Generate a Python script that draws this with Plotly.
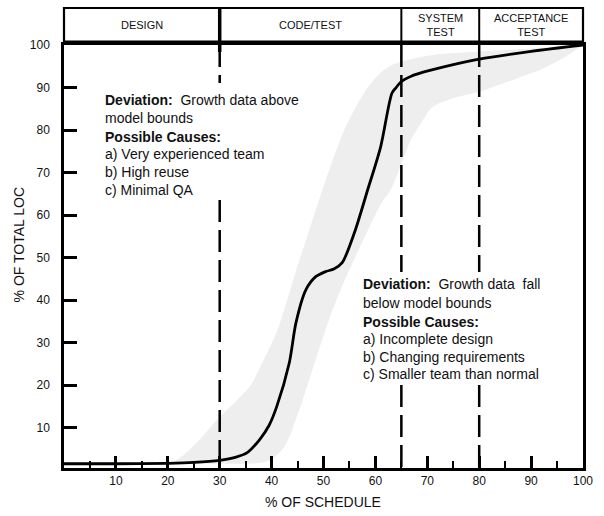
import plotly.graph_objects as go

# ---- data ----
curve_x = [0, 10, 20, 25, 30, 33, 35.3, 37.7, 39.5, 41, 43.4, 44.7, 46.6, 48.5, 50.4, 52, 53.6,
           56, 58.5, 61, 63.2, 64, 64.9, 67, 69.2, 75, 80, 90, 100]
curve_y = [1.5, 1.5, 1.6, 1.8, 2.3, 3, 4.1, 7.2, 10.5, 15, 25.2, 34.7, 42.4, 45.5, 46.7, 47.3, 48.8,
           56, 65.9, 76, 88.7, 90, 91.3, 92.7, 93.6, 95.4, 96.7, 98.5, 100]

upper_x = [20.5, 23, 26, 30, 33, 36, 38.5, 41, 43, 45, 47, 49, 51.5, 54, 56.5, 58.5, 61, 63,
           67, 72, 80, 88, 100]
upper_y = [1.5, 3.5, 7, 12.5, 16, 20, 26, 32.5, 40, 48, 55.5, 63, 72, 80, 86, 90, 93.5, 95.2,
           96.7, 97.8, 98.5, 99, 100]
lower_x = [100, 96, 92, 88, 84, 80, 75, 71, 68.5, 66.8, 65, 63, 61, 58, 54.2, 52, 50.4, 48.5,
           47.2, 46, 44.7, 43.5, 42.2, 40.5, 39, 37, 35]
lower_y = [100, 96.8, 94.3, 92.5, 90.7, 89, 87.5, 85.4, 81, 77.6, 72, 66, 62.5, 55, 45, 38.5, 33,
           26, 21, 16.5, 12, 8, 5, 3, 2, 1.6, 1.5]

phases = ["DESIGN", "CODE/TEST", "SYSTEM<br>TEST", "ACCEPTANCE<br>TEST"]
phase_bounds = [0, 30, 65, 80, 100]

x_ticks = [10, 20, 30, 40, 50, 60, 70, 80, 90, 100]
y_ticks = [10, 20, 30, 40, 50, 60, 70, 80, 90, 100]

upper_note = ["<b>Deviation:</b>\u00a0 Growth data above", "model bounds", "<b>Possible Causes:</b>",
              "a) Very experienced team", "b) High reuse", "c) Minimal QA"]
lower_note = ["<b>Deviation:</b>\u00a0 Growth data\u00a0 fall", "below model bounds", "<b>Possible Causes:</b>",
              "a) Incomplete design", "b) Changing requirements", "c) Smaller team than normal"]

# ---- geometry (reference pixel layout) ----
W, H = 604, 516
L, R = 63.5, 593.0
T, B = 45.0, 468.0
YMIN, YMAX = 0.5, 100
FONT = "Liberation Sans, Arial, sans-serif"


def px_to_xpaper(px):
    return (px - L) / (R - L)


def px_to_ypaper(py):
    return (B - py) / (B - T)


def py_to_val(py):
    return YMIN + (B - py) / (B - T) * (YMAX - YMIN)


fig = go.Figure()

fig.add_trace(go.Scatter(
    x=upper_x + lower_x, y=upper_y + lower_y, fill="toself", mode="lines",
    line=dict(width=0, shape="spline", smoothing=0.8), fillcolor="#eeeeee",
    hoverinfo="skip", showlegend=False))

fig.add_trace(go.Scatter(
    x=curve_x, y=curve_y, mode="lines",
    line=dict(color="black", width=2.8, shape="spline", smoothing=0.8),
    hoverinfo="skip", showlegend=False))

shapes = []
dash_segments = [
    (30, 100, py_to_val(83)), (30, py_to_val(200), YMIN),
    (65, 100, py_to_val(272)), (65, py_to_val(385), YMIN),
    (80, 100, py_to_val(272)), (80, py_to_val(385), YMIN),
]
for xv, y0, y1 in dash_segments:
    shapes.append(dict(type="line", xref="x", yref="y", x0=xv, x1=xv, y0=y0, y1=y1,
                       line=dict(color="black", width=2.5, dash="22px,8px")))

top_p = px_to_ypaper(8)
shapes.append(dict(type="rect", xref="paper", yref="paper", x0=0, x1=1,
                   y0=px_to_ypaper(41.5), y1=top_p, line=dict(color="black", width=2.2)))
for b in phase_bounds[1:-1]:
    xp = b / 100
    w = 3.5 if b == 30 else 2
    bottom = px_to_ypaper(52) if b == 30 else px_to_ypaper(45)
    shapes.append(dict(type="line", xref="paper", yref="paper", x0=xp, x1=xp,
                       y0=bottom, y1=top_p, line=dict(color="black", width=w)))

annotations = []
for i, name in enumerate(phases):
    xc = (phase_bounds[i] + phase_bounds[i + 1]) / 200
    annotations.append(dict(xref="paper", yref="paper", x=xc, y=px_to_ypaper(25.5), text=name,
                            showarrow=False, xanchor="center", yanchor="middle",
                            font=dict(family=FONT, size=11, color="#111")))

for txt, py in zip(upper_note, [100, 118, 137, 153.5, 171.5, 189.5]):
    annotations.append(dict(xref="paper", yref="paper", x=px_to_xpaper(103), y=px_to_ypaper(py),
                            text=txt, showarrow=False, xanchor="left", yanchor="middle",
                            font=dict(family=FONT, size=14, color="#111")))
for txt, py in zip(lower_note, [284, 302.5, 321.5, 338.5, 356.5, 374]):
    annotations.append(dict(xref="paper", yref="paper", x=px_to_xpaper(367), y=px_to_ypaper(py),
                            text=txt, showarrow=False, xanchor="left", yanchor="middle",
                            font=dict(family=FONT, size=14, color="#111")))

annotations.append(dict(xref="paper", yref="paper", x=px_to_xpaper(328), y=px_to_ypaper(502),
                        text="% OF SCHEDULE", showarrow=False, xanchor="center", yanchor="middle",
                        font=dict(family=FONT, size=14, color="#111")))
annotations.append(dict(xref="paper", yref="paper", x=px_to_xpaper(18), y=px_to_ypaper(245),
                        text="% OF TOTAL LOC", showarrow=False, textangle=-90,
                        xanchor="center", yanchor="middle",
                        font=dict(family=FONT, size=14, color="#111")))

fig.update_layout(
    width=W, height=H,
    margin=dict(l=L, r=W - R, t=T, b=H - B, pad=0),
    paper_bgcolor="white", plot_bgcolor="white",
    hovermode=False,
    shapes=shapes, annotations=annotations,
    font=dict(family=FONT, size=12, color="#111"),
    xaxis=dict(range=[0, 100], tickvals=x_ticks, ticktext=[str(v) for v in x_ticks],
               ticks="inside", ticklen=12, tickwidth=2.5, tickcolor="black",
               minor=dict(dtick=5, tick0=0, ticks="inside", ticklen=7, tickwidth=2, tickcolor="black"),
               showline=True, linewidth=3, linecolor="black", mirror=True,
               showgrid=False, zeroline=False, fixedrange=True, ticklabeloverflow="allow",
               tickfont=dict(family=FONT, size=12, color="#111")),
    yaxis=dict(range=[YMIN, YMAX], tickvals=y_ticks, ticktext=[str(v) for v in y_ticks],
               ticks="inside", ticklen=13, tickwidth=2.5, tickcolor="black",
               ticklabelstandoff=9,
               showline=True, linewidth=2.5, linecolor="black", mirror=True,
               showgrid=False, zeroline=False, fixedrange=True,
               tickfont=dict(family=FONT, size=12, color="#111")),
)

fig.write_html("out.html", config={"displayModeBar": False},
               post_script="document.body.style.margin='0px';")
